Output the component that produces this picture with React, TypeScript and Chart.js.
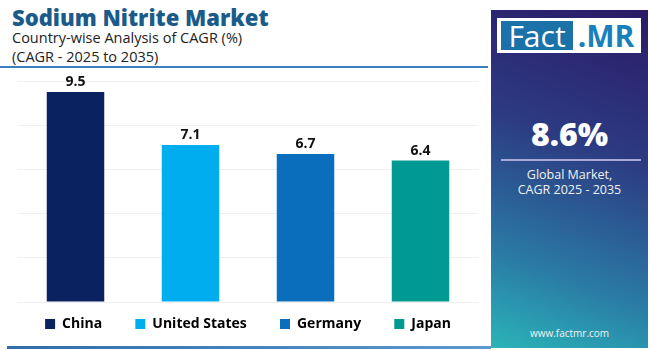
import React, { useEffect, useRef } from "react";
import { Chart, registerables } from "chart.js";

Chart.register(...registerables);

const countries = ["China", "United States", "Germany", "Japan"];
const cagrValues = [9.5, 7.1, 6.7, 6.4];
const barColors = ["#0b2260", "#00aeef", "#0a6ebd", "#009a93"];
const yTickMax = 10;
const yTickStep = 2;

const FONT = "'Open Sans', 'DejaVu Sans', sans-serif";

const valueLabelPlugin = {
  id: "valueLabels",
  afterDatasetsDraw(chart: any) {
    const ctx = chart.ctx;
    const meta = chart.getDatasetMeta(0);
    ctx.save();
    ctx.font = `700 14px ${FONT}`;
    ctx.fillStyle = "#111111";
    ctx.textAlign = "center";
    ctx.textBaseline = "bottom";
    meta.data.forEach((bar: any, i: number) => {
      const v = chart.data.datasets[0].data[i];
      ctx.fillText(String(v), bar.x, bar.y - 3);
    });
    ctx.restore();
  },
};

function BarChart() {
  const ref = useRef<HTMLCanvasElement | null>(null);
  useEffect(() => {
    if (!ref.current) return;
    const chart = new Chart(ref.current, {
      type: "bar",
      data: {
        labels: countries,
        datasets: [
          {
            data: cagrValues,
            backgroundColor: barColors,
            borderWidth: 0,
            barPercentage: 0.5,
            categoryPercentage: 1,
          },
        ],
      },
      options: {
        animation: false,
        responsive: false,
        maintainAspectRatio: false,
        layout: { padding: { left: 18, right: 12, top: 11, bottom: 5 } },
        scales: {
          x: { display: false },
          y: {
            min: 0,
            max: yTickMax,
            ticks: { display: false, stepSize: yTickStep },
            border: { display: false },
            grid: { color: "#f0f0f0", lineWidth: 1, drawTicks: false },
          },
        },
        plugins: {
          tooltip: { enabled: false },
          legend: {
            display: true,
            position: "bottom",
            labels: {
              boxWidth: 10,
              boxHeight: 10,
              padding: 15,
              color: "#111111",
              font: { family: FONT, size: 14, weight: "bold" },
              generateLabels: (c: any) =>
                c.data.labels.map((l: string, i: number) => ({
                  text: i < c.data.labels.length - 1 ? l + "\u00a0\u00a0\u00a0\u00a0\u00a0" : l,
                  fillStyle: barColors[i],
                  strokeStyle: barColors[i],
                  lineWidth: 0,
                  hidden: false,
                  index: i,
                })),
            },
          },
        },
      },
      plugins: [valueLabelPlugin],
    });
    return () => chart.destroy();
  }, []);
  return <canvas ref={ref} width={490} height={276} style={{ display: "block" }} />;
}

export default function App() {
  return (
    <div
      style={{
        position: "fixed",
        left: 0,
        top: 0,
        width: 650,
        height: 350,
        background: "#ffffff",
        overflow: "hidden",
        fontFamily: FONT,
      }}
    >
      <div style={{ position: "absolute", left: 12, top: 2, fontSize: 22, fontWeight: 800, color: "#1a5b8a", whiteSpace: "nowrap" }}>
        Sodium Nitrite Market
      </div>
      <div style={{ position: "absolute", left: 12, top: 28, fontSize: 14.5, lineHeight: "19px", color: "#222", whiteSpace: "nowrap" }}>
        Country-wise Analysis of CAGR (%)
        <br />
        (CAGR - 2025 to 2035)
      </div>
      <div style={{ position: "absolute", left: 0, top: 66, width: 488, height: 2, background: "#3a7fc0" }} />
      <div style={{ position: "absolute", left: 0, top: 70 }}>
        <BarChart />
      </div>
      <div
        style={{
          position: "absolute",
          left: 7,
          top: 346,
          width: 484,
          height: 3,
          background: "linear-gradient(to right, #2f6ea8, #5a9ad0)",
        }}
      />
      <div
        style={{
          position: "absolute",
          left: 491,
          top: 10,
          width: 157,
          height: 338,
          background: "linear-gradient(200deg, #2b1a66 0%, #2c3b82 40%, #2a7aa5 75%, #2ab4b8 100%)",
        }}
      >
        <div style={{ position: "absolute", left: 6, top: 8, width: 144, height: 35, background: "#fff" }}>
          <div style={{ position: "absolute", left: 4, top: 3, width: 72, height: 29, background: "#1a72a8", color: "#fff", fontSize: 30, lineHeight: "29px", textAlign: "center", fontWeight: 400 }}>
            Fact
          </div>
          <div style={{ position: "absolute", left: 76, top: 3, width: 66, height: 29, color: "#1a80bb", fontSize: 30, lineHeight: "29px", textAlign: "center", fontWeight: 700 }}>
            .MR
          </div>
        </div>
        <div style={{ position: "absolute", left: 0, top: 102, width: 157, textAlign: "center", color: "#fff", fontSize: 32, fontWeight: 800 }}>
          8.6%
        </div>
        <div style={{ position: "absolute", left: 10, top: 149, width: 140, height: 2, background: "#a9a8d8" }} />
        <div style={{ position: "absolute", left: 0, top: 157, width: 157, textAlign: "center", color: "#f2f2f2", fontSize: 12.5, lineHeight: "15px" }}>
          Global Market,
          <br />
          CAGR 2025 - 2035
        </div>
        <div style={{ position: "absolute", left: 0, top: 316, width: 157, textAlign: "center", color: "#f2f2f2", fontSize: 10 }}>
          www.factmr.com
        </div>
      </div>
    </div>
  );
}
